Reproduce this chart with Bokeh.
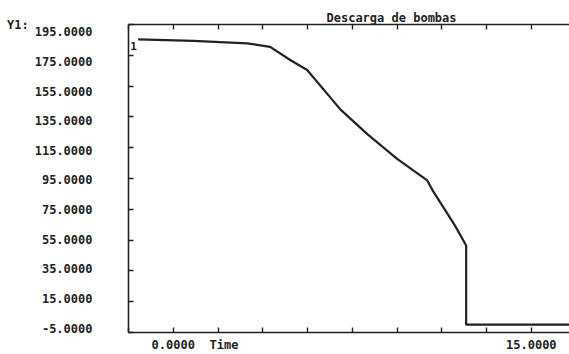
import numpy as np
from bokeh.plotting import figure
from bokeh.models import Range1d, LinearAxis, FixedTicker, Title, PrintfTickFormatter
from bokeh.core.properties import value
from bokeh.embed import file_html
from bokeh.resources import INLINE

# ---- data ----
title_text = "Descarga de bombas"
y_axis_name = "Y1:"
x_axis_name = "Time"
curve_name = "1"

time = [-1.47, 0.84, 3.10, 4.06, 4.90, 5.61, 7.00, 8.13, 9.38, 10.64, 10.89, 11.81, 12.27, 12.27, 16.7]
y1 = [190.0, 188.9, 187.3, 184.9, 176.0, 169.3, 142.7, 126.0, 109.3, 94.7, 87.3, 64.0, 50.7, -2.7, -2.7]

y_tick_values = [-5, 15, 35, 55, 75, 95, 115, 135, 155, 175, 195]
x_tick_values = [0, 15]

# ---- axis ranges & tick divisions ----
x_start, x_step, x_end = -1.875, 1.875, 16.6
y_start, y_end = -8, 200
x_minor = list(np.arange(x_start, x_end + 2 * x_step, x_step))
y_minor = list(np.linspace(y_start, y_end, 11))
time_name_at = 2.125   # where the "Time" caption sits along the x axis

FONT_NAME = "DejaVu Sans Mono"
INK = "#222222"

p = figure(width=569, height=354,
           x_range=Range1d(x_start, x_end), y_range=Range1d(y_start, y_end),
           output_backend="svg", toolbar_location=None,
           min_border_left=128, min_border_right=0,
           min_border_top=24, min_border_bottom=18)
p.background_fill_color = "white"
p.border_fill_color = "white"
p.outline_line_color = None
p.xgrid.visible = False
p.ygrid.visible = False


def style_axis(ax):
    ax.axis_line_color = INK
    ax.axis_line_width = 1.6
    ax.major_tick_line_color = INK
    ax.minor_tick_line_color = INK
    ax.major_tick_line_width = 1.4
    ax.minor_tick_line_width = 1.4
    ax.major_tick_in = 0
    ax.major_tick_out = 0
    ax.minor_tick_in = 5
    ax.minor_tick_out = 0
    ax.major_label_text_font = FONT_NAME
    ax.major_label_text_font_style = "bold"
    ax.major_label_text_font_size = "12px"
    ax.major_label_text_color = INK
    ax.formatter = PrintfTickFormatter(format="%.4f")


xa = p.xaxis[0]
xa.ticker = FixedTicker(ticks=x_tick_values + [time_name_at], minor_ticks=x_minor)
style_axis(xa)
xa.major_label_standoff = 5
xa.major_label_overrides = {time_name_at: x_axis_name, str(time_name_at): x_axis_name}

ya = p.yaxis[0]
ya.ticker = FixedTicker(ticks=y_tick_values, minor_ticks=y_minor)
style_axis(ya)
ya.major_label_standoff = 36

top = LinearAxis(ticker=FixedTicker(ticks=[], minor_ticks=x_minor))
style_axis(top)
top.major_label_text_font_size = "0px"
top.major_label_standoff = 0
p.add_layout(top, "above")

p.title.text = title_text
p.title.align = "left"
p.title.offset = 198
p.title.standoff = 0
p.title.text_font = FONT_NAME
p.title.text_font_style = "bold"
p.title.text_font_size = "12px"
p.title.text_color = INK

if "axis_label_align" in ya.properties():
    ya.axis_label = y_axis_name
    ya.axis_label_orientation = "horizontal"
    ya.axis_label_align = "end"
    ya.axis_label_standoff = 3
    ya.axis_label_text_font = FONT_NAME
    ya.axis_label_text_font_style = "bold"
    ya.axis_label_text_font_size = "12px"
    ya.axis_label_text_color = INK
    ya.axis_label_text_baseline = "bottom"
else:
    p.add_layout(Title(text=y_axis_name, align="left", offset=-118, standoff=0,
                       text_font=FONT_NAME, text_font_style="bold",
                       text_font_size="12px", text_color=INK), "above")

p.line(time, y1, line_color=INK, line_width=2.2)
p.text(x=[time[0]], y=[y1[0]], text=[curve_name], x_offset=-8, y_offset=3,
       text_font=value(FONT_NAME), text_font_style="bold", text_font_size="11px",
       text_color=INK, text_baseline="top", text_align="left")

open("out.html", "w").write(file_html(p, INLINE))
